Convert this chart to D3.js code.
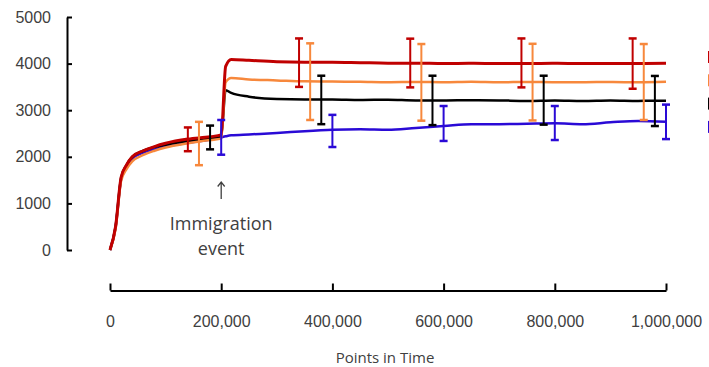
<!DOCTYPE html>
<html>
<head>
<meta charset="utf-8">
<script src="https://cdn.jsdelivr.net/npm/d3@7"></script>
<style>
  body { margin: 0; background: #fff; }
  svg { font-family: "Open Sans", "Noto Sans", sans-serif; }
  .tickText text { fill: #404040; font-size: 16px; }
</style>
</head>
<body>
<div id="chart"></div>
<script>
// time points shared by all four series
var timePoints = [0, 10000, 20000, 30000, 40000, 60000, 80000, 100000, 140000, 180000,
  200000, 208000, 218000, 250000, 300000, 350000, 400000, 450000, 500000, 550000,
  600000, 650000, 700000, 750000, 800000, 850000, 900000, 950000, 1000000];

// series values
var redValues = [0, 500, 1560, 1830, 2000, 2130, 2220, 2290, 2380, 2430,
  2470, 3940, 4090, 4070, 4040, 4030, 4030, 4020, 4010, 4010,
  4000, 4005, 4000, 4000, 4005, 4000, 4000, 4000, 4005];
var orangeValues = [0, 450, 1480, 1740, 1900, 2040, 2130, 2200, 2290, 2360,
  2390, 3600, 3690, 3660, 3640, 3620, 3615, 3610, 3600, 3605,
  3600, 3610, 3600, 3605, 3600, 3600, 3605, 3600, 3610];
var blackValues = [0, 500, 1550, 1830, 2000, 2130, 2210, 2260, 2340, 2400,
  2440, 3430, 3370, 3290, 3240, 3230, 3230, 3220, 3225, 3210,
  3210, 3215, 3210, 3200, 3210, 3200, 3210, 3200, 3205];
var blueValues = [0, 480, 1520, 1790, 1960, 2090, 2160, 2220, 2300, 2370,
  2420, 2440, 2460, 2480, 2510, 2550, 2580, 2590, 2580, 2620,
  2660, 2700, 2700, 2710, 2720, 2700, 2740, 2770, 2750];

// error bars (time, low, high)
var redErrTime = [140000, 340000, 540000, 740000, 940000];
var redErrLow = [2120, 3500, 3490, 3490, 3460];
var redErrHigh = [2630, 4540, 4535, 4540, 4540];
var orangeErrTime = [160000, 360000, 560000, 760000, 960000];
var orangeErrLow = [1820, 2790, 2775, 2780, 2790];
var orangeErrHigh = [2750, 4435, 4420, 4425, 4420];
var blackErrTime = [180000, 380000, 580000, 780000, 980000];
var blackErrLow = [2160, 2700, 2680, 2690, 2660];
var blackErrHigh = [2670, 3740, 3740, 3740, 3735];
var blueErrTime = [200000, 400000, 600000, 800000, 1000000];
var blueErrLow = [2045, 2210, 2340, 2360, 2380];
var blueErrHigh = [2790, 2900, 3090, 3090, 3120];

// tick labels
var yTicks = [0, 1000, 2000, 3000, 4000, 5000];
var xTicks = [0, 200000, 400000, 600000, 800000, 1000000];

var svgWidth = 709;
var svgHeight = 367;

var svg = d3.select("#chart")
  .append("svg")
  .attr("width", svgWidth)
  .attr("height", svgHeight);

var xScale = d3.scaleLinear().domain([0, 1000000]).range([110, 666]);
var yScale = d3.scaleLinear().domain([0, 5000]).range([250, 17]);

// y axis, ticks pointing inward
var leftAxis = d3.axisLeft(yScale)
  .tickValues(yTicks)
  .tickSize(-5)
  .tickSizeOuter(0)
  .tickPadding(16)
  .tickFormat(d3.format("d"));

var yAxis = svg.append("g")
  .attr("class", "tickText")
  .attr("transform", "translate(67,0)")
  .call(leftAxis);
yAxis.selectAll("path, line").attr("stroke", "#000").attr("stroke-width", 2);
yAxis.selectAll("text").style("font-size", "16px");

// x axis drawn below the plot, ticks pointing up
var bottomAxis = d3.axisBottom(xScale)
  .tickValues(xTicks)
  .tickSize(-7)
  .tickSizeOuter(0)
  .tickPadding(25)
  .tickFormat(d3.format(","));

var xAxis = svg.append("g")
  .attr("class", "tickText")
  .attr("transform", "translate(0,290.5)")
  .call(bottomAxis);
xAxis.selectAll("path, line").attr("stroke", "#000").attr("stroke-width", 2);
xAxis.selectAll("text").style("font-size", "16px");

svg.append("text")
  .attr("x", 385)
  .attr("y", 363)
  .attr("text-anchor", "middle")
  .attr("fill", "#404040")
  .style("font-size", "15px")
  .text("Points in Time");

// series
var series = [
  { name: "blue", color: "#2a0ad6", width: 2.5, values: blueValues,
    errTime: blueErrTime, errLow: blueErrLow, errHigh: blueErrHigh },
  { name: "black", color: "#000000", width: 2.5, values: blackValues,
    errTime: blackErrTime, errLow: blackErrLow, errHigh: blackErrHigh },
  { name: "orange", color: "#f7883c", width: 2.5, values: orangeValues,
    errTime: orangeErrTime, errLow: orangeErrLow, errHigh: orangeErrHigh },
  { name: "red", color: "#c00000", width: 3, values: redValues,
    errTime: redErrTime, errLow: redErrLow, errHigh: redErrHigh }
];

var line = d3.line()
  .x((d, i) => xScale(timePoints[i]))
  .y(d => yScale(d))
  .curve(d3.curveMonotoneX);

svg.selectAll(".series")
  .data(series)
  .enter()
  .append("path")
  .attr("class", "series")
  .attr("fill", "none")
  .attr("stroke", d => d.color)
  .attr("stroke-width", d => d.width)
  .attr("stroke-linejoin", "round")
  .attr("d", d => line(d.values));

// error bars
series.forEach(function(s) {
  var bars = svg.append("g").attr("stroke", s.color);
  s.errTime.forEach(function(t, i) {
    var cx = xScale(t);
    var top = yScale(s.errHigh[i]);
    var bottom = yScale(s.errLow[i]);
    bars.append("line")
      .attr("x1", cx).attr("x2", cx)
      .attr("y1", top).attr("y2", bottom)
      .attr("stroke-width", 2);
    [top, bottom].forEach(function(yy) {
      bars.append("line")
        .attr("x1", cx - 4).attr("x2", cx + 4)
        .attr("y1", yy).attr("y2", yy)
        .attr("stroke-width", 2.5);
    });
  });
});

// legend swatches (cut off at the right edge)
var legendOrder = ["red", "orange", "black", "blue"];
svg.selectAll(".legendKey")
  .data(legendOrder)
  .enter()
  .append("rect")
  .attr("class", "legendKey")
  .attr("x", 708)
  .attr("y", (d, i) => 51 + i * 23.3)
  .attr("width", 12)
  .attr("height", 12)
  .attr("fill", d => series.find(s => s.name === d).color);

// annotation: arrow pointing up at the immigration event
var arrowX = xScale(200000);
svg.append("path")
  .attr("d", `M${arrowX},199 L${arrowX},182 M${arrowX - 3.5},186.5 L${arrowX},182 L${arrowX + 3.5},186.5`)
  .attr("fill", "none")
  .attr("stroke", "#404040")
  .attr("stroke-width", 1.3);

svg.append("text")
  .attr("x", arrowX)
  .attr("y", 230)
  .attr("text-anchor", "middle")
  .attr("fill", "#404040")
  .style("font-size", "18px")
  .text("Immigration");

svg.append("text")
  .attr("x", arrowX)
  .attr("y", 255)
  .attr("text-anchor", "middle")
  .attr("fill", "#404040")
  .style("font-size", "18px")
  .text("event");
</script>
</body>
</html>
